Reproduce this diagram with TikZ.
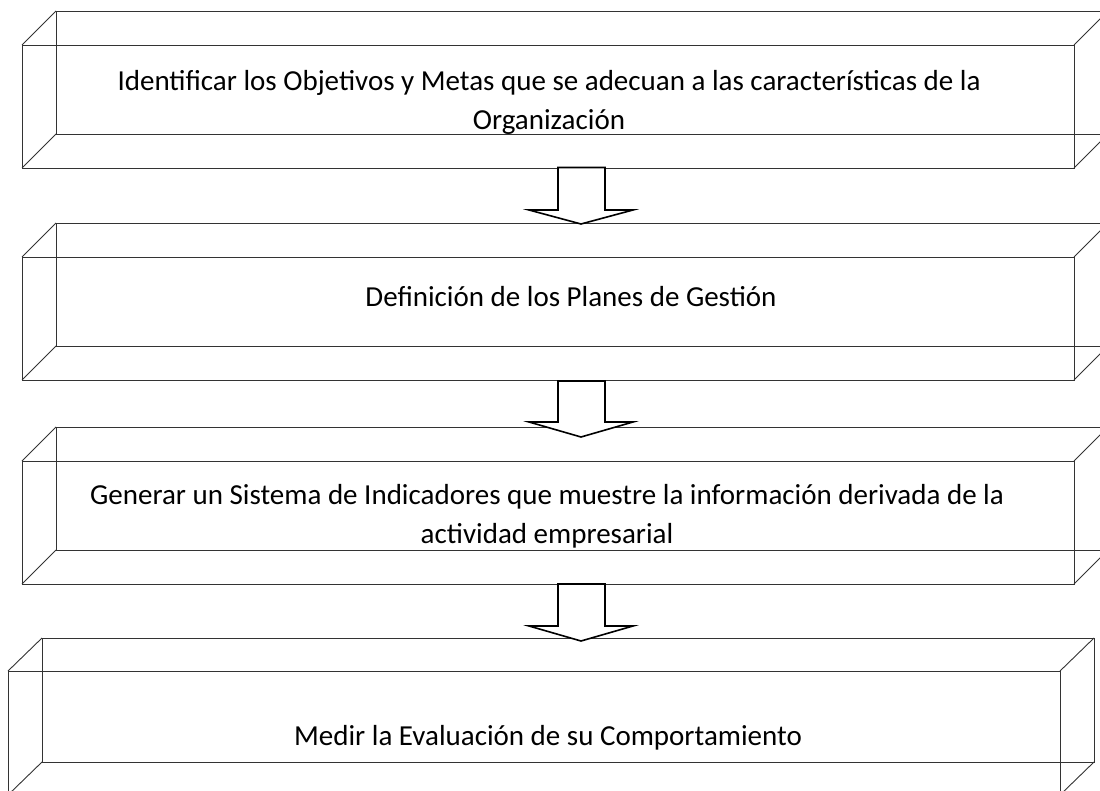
\documentclass[tikz,border=0pt]{standalone}
\usepackage{fontspec}
\setmainfont{Carlito}
\begin{document}
\begin{tikzpicture}[x=1pt,y=-1pt,
  face/.style={draw=black!80, line width=0.9pt, inner sep=0pt, outer sep=0pt, minimum width=1052pt, minimum height=123pt},
  edge/.style={draw=black!80, line width=0.9pt},
  label/.style={font=\fontsize{29}{39}\selectfont, align=center, inner sep=0pt},
  blockarrow/.style={draw=black, line width=1.6pt, fill=white, line join=miter}]
\useasboundingbox (0,0) rectangle (1100,791);
\clip (0,0) rectangle (1100,791);
% box 1
\node[face] (b1) at (56+526,11+61.5) {};
\node[face] (f1) at (22+526,45+61.5) {};
% box 2
\node[face] (b2) at (56+526,223+61.5) {};
\node[face] (f2) at (22+526,257+61.5) {};
% box 3
\node[face] (b3) at (56+526,427+61.5) {};
\node[face] (f3) at (22+526,461+61.5) {};
% box 4
\node[face, minimum height=124pt] (b4) at (42+526,638+62) {};
\node[face, minimum height=124pt] (f4) at (8+526,671+62) {};
\foreach \i in {1,2,3,4}{
  \draw[edge] (f\i.north west) -- (b\i.north west);
  \draw[edge] (f\i.north east) -- (b\i.north east);
  \draw[edge] (f\i.south west) -- (b\i.south west);
  \draw[edge] (f\i.south east) -- (b\i.south east);
}
% texts
\node[label] (t1) at (549,102) {Identificar los Objetivos y Metas que se adecuan a las características de la\\Organización};
\node[label] (t2) at (571,297) {Definición de los Planes de Gestión};
\node[label] (t3) at (547,516) {Generar un Sistema de Indicadores que muestre la información derivada de la\\actividad empresarial};
\node[label] (t4) at (548,738) {Medir la Evaluación de su Comportamiento};
% arrows
\foreach \top/\base/\tip in {167.5/210/224, 381/422/437, 584/626/641}{
  \draw[blockarrow] (558,\top) -- (558,\base) -- (529,\base) -- (581,\tip) -- (633,\base) -- (605,\base) -- (605,\top) -- cycle;
}
\end{tikzpicture}
\end{document}
